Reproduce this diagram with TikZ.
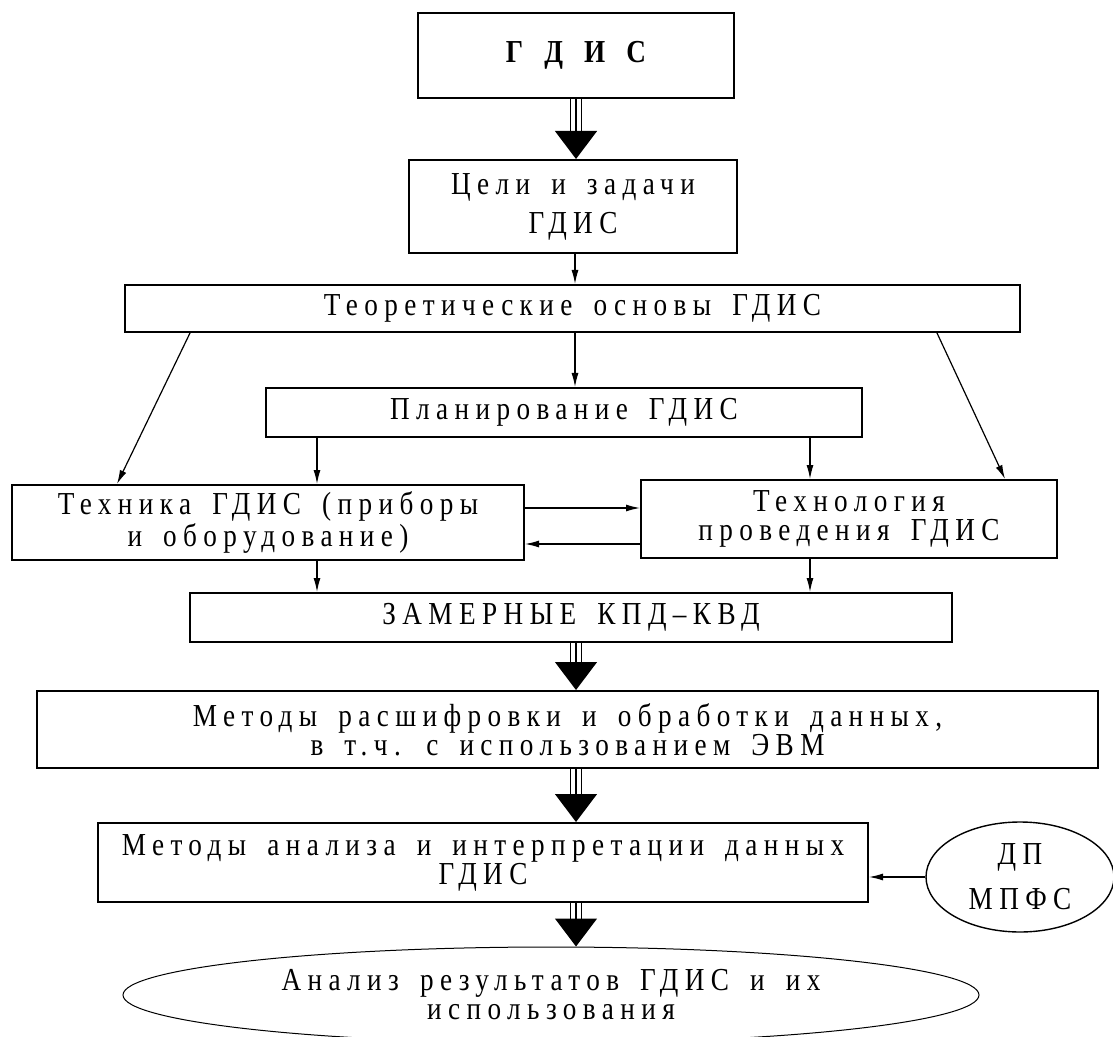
\documentclass[tikz,border=0pt]{standalone}
\usepackage{fontspec}
\setmainfont{Liberation Serif}[LetterSpace=20,FakeStretch=0.85,WordSpace=1.6]
\usetikzlibrary{arrows.meta,shapes.geometric}

\tikzset{
	box/.style={draw, line width=1pt, inner sep=0pt, align=center, font=\fontsize{16}{14.5}\selectfont},
	oval/.style={box, ellipse, line width=0.7pt},
	arr/.style={line width=0.6pt, -{Latex[length=7pt,width=3.5pt]}},
	fat/.style={line width=0.6pt, -{Triangle[width=21pt,length=14pt]}, preaction={draw, -, double distance=5pt, shorten >=13pt}}
}

\begin{document}
\begin{tikzpicture}[x=0.5pt,y=-0.5pt]
				\useasboundingbox (0,0) rectangle (1113,1037);
				
				\node[box, minimum width=158pt, minimum height=42.5pt] (gdis) at (576,55.5) {\raisebox{-3pt}{\bfseries Г Д И С}};
				\node[box, minimum width=164pt, minimum height=46.5pt] (tseli) at (573,206.5) {Цели и задачи\\[5pt]ГДИС};
				\node[box, minimum width=447.5pt, minimum height=23.5pt] (teor) at (572.5,308.5) {Теоретические основы ГДИС};
				\node[box, minimum width=298pt, minimum height=24.5pt] (plan) at (564,412.5) {Планирование ГДИС};
				\node[box, minimum width=256pt, minimum height=37.5pt] (tekh) at (268,522.5) {Техника ГДИС (приборы\\[0.5pt]и оборудование)};
				\node[box, minimum width=208pt, minimum height=39pt] (tehnol) at (849,519) {Технология\\проведения ГДИС};
				\node[box, minimum width=381pt, minimum height=24.5pt] (zamer) at (571,617.5) {ЗАМЕРНЫЕ КПД–КВД};
				\node[box, minimum width=530.5pt, minimum height=38.5pt] (metras) at (567.5,729.5) {Методы расшифровки и обработки данных,\\в т.ч. с использованием ЭВМ};
				\node[box, minimum width=385pt, minimum height=39.5pt] (metan) at (483,862.5) {Методы анализа и интерпретации данных\\ГДИС};
				\node[oval, minimum width=94pt, minimum height=55pt] (dp) at (1020,877) {ДП\\[8pt]МПФС};
				\node[oval, line width=0.5pt, minimum width=428pt, minimum height=48pt] (anal) at (551,995) {Анализ результатов ГДИС и их\\использования};
				
				\draw[fat] (gdis.south -| 576,0) -- (tseli.north -| 576,0);
				\draw[arr] (tseli.south -| 575,0) -- (teor.north -| 575,0);
				\draw[arr] (teor.south -| 575,0) -- (plan.north -| 575,0);
				\draw[arr] (teor.south -| 190,0) -- (tekh.north -| 117,0);
				\draw[arr] (teor.south -| 937,0) -- (tehnol.north -| 1005,0);
				\draw[arr] (plan.south -| 317,0) -- (tekh.north -| 317,0);
				\draw[arr] (plan.south -| 810,0) -- (tehnol.north -| 810,0);
				\draw[arr] (tekh.east |- 0,508) -- (tehnol.west |- 0,508);
				\draw[arr] (tehnol.west |- 0,544) -- (tekh.east |- 0,544);
				\draw[arr] (tekh.south -| 317,0) -- (zamer.north -| 317,0);
				\draw[arr] (tehnol.south -| 810,0) -- (zamer.north -| 810,0);
				\draw[fat] (zamer.south -| 576,0) -- (metras.north -| 576,0);
				\draw[fat] (metras.south -| 576,0) -- (metan.north -| 576,0);
				\draw[arr] (dp.west) -- (metan.east |- dp.west);
				\draw[fat] (metan.south -| 576,0) -- (anal.north -| 576,0);
\end{tikzpicture}
\end{document}
